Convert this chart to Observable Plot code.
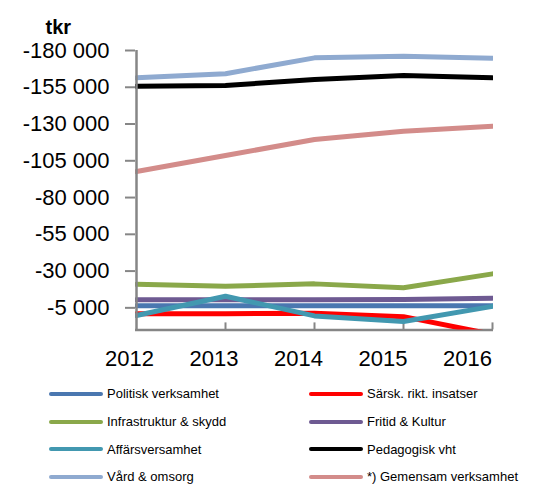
<!DOCTYPE html>
<html><head><meta charset="utf-8">
<script src="https://cdn.jsdelivr.net/npm/d3@7"></script>
<script src="https://cdn.jsdelivr.net/npm/@observablehq/plot@0.6"></script>
<style>
body{margin:0;background:#fff;font-family:"Liberation Sans",Arial,sans-serif;}
#chart{width:550px;height:484px;position:relative;overflow:hidden;}
.legend{display:grid;grid-template-columns:260px 290px;grid-auto-rows:27.7px;}
.item{display:flex;align-items:center;font-size:13px;color:#000;padding-left:48px;white-space:nowrap;}
.item svg{margin-right:3px;}
</style></head><body><div id="chart"></div>
<script>
const years = [2012, 2013, 2014, 2015, 2016];
const seriesNames = ["Politisk verksamhet", "Särsk. rikt. insatser", "Infrastruktur & skydd", "Fritid & Kultur",
  "Affärsversamhet", "Pedagogisk vht", "Vård & omsorg", "*) Gemensam verksamhet"];
const politisk = [-6500, -6500, -6500, -6500, -6500];
const sarsk = [-1000, -1000, -1300, 1000, 13000];
const infrastruktur = [-21000, -19700, -21300, -18600, -28100];
const fritid = [-10500, -10500, -10500, -10600, -11600];
const affars = [200, -12900, 500, 4300, -6000];
const pedagogisk = [-155700, -156200, -160300, -163000, -161400];
const vard = [-161400, -164200, -175000, -176100, -174800];
const gemensam = [-97700, -108600, -119500, -125100, -128500];
const seriesValues = [politisk, sarsk, infrastruktur, fritid, affars, pedagogisk, vard, gemensam];
const colors = ["#4a77b0", "#ff0000", "#8aa84a", "#6e5a92", "#4298b0", "#000000", "#8faad0", "#d38c8a"];
const yTicks = [-180000, -155000, -130000, -105000, -80000, -55000, -30000, -5000];
const yDomain = [-180000, 10000];
const unitLabel = "tkr";

const data = years.flatMap((yr, i) => seriesNames.map((n, s) => ({year: yr, value: seriesValues[s][i], name: n})));
const fmt = d3.formatLocale({thousands: " ", grouping: [3], decimal: ",", currency: ["", ""], minus: "-"}).format(",");
const gray = "#868686";

const plot = Plot.plot({
  width: 550, height: 380,
  marginLeft: 135, marginRight: 57, marginTop: 50, marginBottom: 50.6,
  style: {fontFamily: "'Liberation Sans', Arial, sans-serif", background: "#fff", color: "#000", overflow: "visible"},
  x: {type: "point", domain: years, padding: 0, axis: null},
  y: {domain: yDomain, reverse: true, axis: null},
  color: {domain: seriesNames, range: colors},
  marks: [
    Plot.axisY(yTicks, {tickSize: 10, tickPadding: 16, tickFormat: fmt, fontSize: 22, stroke: gray, strokeWidth: 2, fill: "#000", label: null}),
    Plot.ruleY([yDomain[1]], {stroke: gray, strokeWidth: 2.5}),
    Plot.ruleX(years.slice(1), {x: d => d, y1: yDomain[1], y2: yDomain[1], insetBottom: 7, stroke: gray, strokeWidth: 2}),
    Plot.line(data, {x: "year", y: "value", z: "name", stroke: "name", strokeWidth: 5, strokeLinejoin: "round", clip: true}),
    Plot.ruleX([years[0]], {stroke: gray, strokeWidth: 2.5}),
    ...years.map((yr, i) => Plot.text([yr], {x: d => d, text: d => String(d), frameAnchor: "bottom", dy: 36, dx: -7 - 4.5 * i, fontSize: 22, fill: "#000"})),
    Plot.text([unitLabel], {frameAnchor: "top-left", dx: -90, dy: -31, textAnchor: "start", fontSize: 20, fontWeight: "bold", fill: "#000"})
  ]
});
const chart = document.getElementById("chart");
chart.appendChild(plot);

const legend = document.createElement("div");
legend.className = "legend";
seriesNames.forEach((n, i) => {
  const item = document.createElement("div");
  item.className = "item";
  item.innerHTML = `<svg width="56" height="8"><line x1="3" y1="4" x2="53" y2="4" stroke="${colors[i]}" stroke-width="4" stroke-linecap="round"/></svg><span></span>`;
  item.querySelector("span").textContent = n;
  legend.appendChild(item);
});
chart.appendChild(legend);
</script></body></html>
